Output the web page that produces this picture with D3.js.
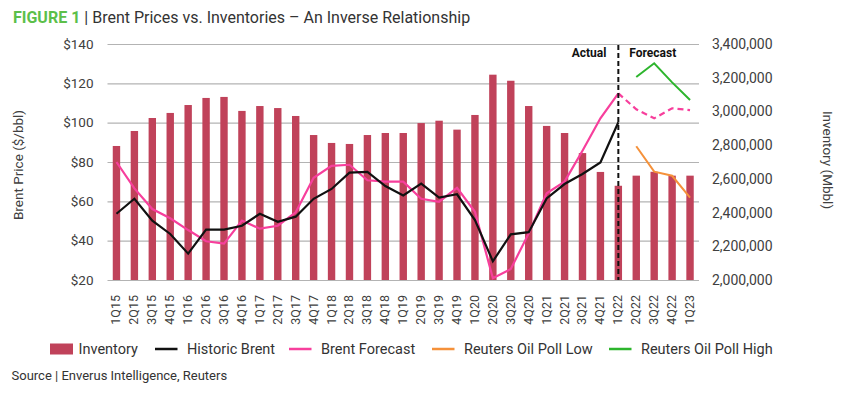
<!DOCTYPE html>
<html>
<head>
<meta charset="utf-8">
<script src="https://cdn.jsdelivr.net/npm/d3@7"></script>
<style>
body { margin: 0; background: #fff; }
text { font-family: Roboto, "Noto Sans", sans-serif; }
</style>
</head>
<body>
<script>
// quarters on the x axis
var quarters = ["1Q15","2Q15","3Q15","4Q15","1Q16","2Q16","3Q16","4Q16",
  "1Q17","2Q17","3Q17","4Q17","1Q18","2Q18","3Q18","4Q18",
  "1Q19","2Q19","3Q19","4Q19","1Q20","2Q20","3Q20","4Q20",
  "1Q21","2Q21","3Q21","4Q21","1Q22","2Q22","3Q22","4Q22","1Q23"];

// inventory (Mbbl), right axis
var inventory = [2795000,2884000,2961000,2991000,3038000,3080000,3086000,3003000,
  3032000,3020000,2973000,2860000,2813000,2807000,2860000,2872000,
  2872000,2931000,2945000,2892000,2979000,3218000,3182000,3032000,
  2914000,2872000,2753000,2641000,2559000,2619000,2642000,2619000,2619000];

// historic brent, 1Q15 - 1Q22
var historic = [53.7,61.3,50.2,43.4,33.4,45.6,45.6,47.6,
  53.7,49.6,52.2,61.3,66.3,74.6,75,67.8,
  63,69,61.9,63.6,50.5,29.5,43.2,44.3,
  61.5,68.8,73.9,79.8,100.2];

// brent forecast, 1Q15 - 1Q23 (dashed from 1Q22 on)
var forecast = [80,66.6,56.1,51.4,45.4,39.7,38.5,50.2,
  46.1,47.6,54.4,72,78,78.6,70.7,70,
  70,61.3,59.8,66.9,54.7,20.9,25.6,43.7,
  64.1,70,85.7,102.2,114.9,106.8,102.2,107.3,106.4];

// reuters poll, 2Q22 - 1Q23
var pollQuarters = ["2Q22","3Q22","4Q22","1Q23"];
var pollLow = [88,75.1,73,61.9];
var pollHigh = [123.2,130.2,120.5,111.5];

var priceTicks = [20,40,60,80,100,120,140];
var invTicks = [2000000,2200000,2400000,2600000,2800000,3000000,3200000,3400000];

var W = 847, H = 397;
var mLeft = 107.5, mRight = 699, mTop = 44, mBottom = 280;

var svg = d3.select("body").append("svg")
  .attr("width", W).attr("height", H);

var x = d3.scaleBand().domain(quarters).range([mLeft, mRight]).padding(0);
var cx = function(q) { return x(q) + x.bandwidth() / 2; };
var yP = d3.scaleLinear().domain([20, 140]).range([mBottom, mTop]);
var yI = d3.scaleLinear().domain([2000000, 3400000]).range([mBottom, mTop]);

// title
var title = svg.append("text").attr("x", 13).attr("y", 23).attr("font-size", 16);
title.append("tspan").attr("fill", "#5cbf4a").attr("font-weight", "bold").text("FIGURE 1");
title.append("tspan").attr("fill", "#333").text(" | Brent Prices vs. Inventories \u2013 An Inverse Relationship");

// gridlines + left axis
var gl = svg.append("g").attr("transform", "translate(" + mLeft + ",0)")
  .call(d3.axisLeft(yP).tickValues(priceTicks).tickSize(-(mRight - mLeft)).tickPadding(14)
    .tickFormat(function(d) { return "$" + d; }));
gl.select(".domain").remove();
gl.selectAll(".tick line").attr("stroke", "#b3b3b3").attr("stroke-width", 1.2);
gl.selectAll(".tick text").attr("font-size", 13.5).attr("fill", "#404040")
  .attr("font-family", "Roboto, sans-serif");

// right axis
var gr = svg.append("g").attr("transform", "translate(" + mRight + ",0)")
  .call(d3.axisRight(yI).tickValues(invTicks).tickSize(0).tickPadding(13)
    .tickFormat(d3.format(",")));
gr.select(".domain").remove();
gr.selectAll(".tick text").attr("font-size", 14).attr("fill", "#404040")
  .attr("font-family", "Roboto, sans-serif");

// axis titles
svg.append("text").attr("transform", "translate(23,165) rotate(-90)")
  .attr("text-anchor", "middle").attr("font-size", 13.5).attr("fill", "#404040")
  .text("Brent Price ($/bbl)");
svg.append("text").attr("transform", "translate(823,160) rotate(90)")
  .attr("text-anchor", "middle").attr("font-size", 13.5).attr("fill", "#404040")
  .text("Inventory (Mbbl)");

// bars
var bw = 7.4;
svg.append("g").selectAll("rect").data(inventory).enter().append("rect")
  .attr("x", function(d, i) { return cx(quarters[i]) - bw / 2; })
  .attr("y", function(d) { return yI(d); })
  .attr("width", bw)
  .attr("height", function(d) { return mBottom - yI(d); })
  .attr("fill", "#c0425a");

// x labels
var gx = svg.append("g").attr("transform", "translate(0," + mBottom + ")")
  .call(d3.axisBottom(x).tickSize(0).tickPadding(0));
gx.select(".domain").remove();
gx.selectAll(".tick text")
  .attr("transform", "translate(4,15) rotate(-90)")
  .attr("text-anchor", "end").attr("dy", 0).attr("x", 0).attr("y", 0)
  .attr("font-size", 12.5).attr("fill", "#404040")
  .attr("font-family", "Roboto, sans-serif");

// lines
var line = d3.line().x(function(d) { return cx(d[0]); }).y(function(d) { return yP(d[1]); });

var fcSolid = forecast.slice(0, 29).map(function(v, i) { return [quarters[i], v]; });
var fcDash = forecast.slice(28).map(function(v, i) { return [quarters[i + 28], v]; });
svg.append("path").datum(fcSolid).attr("d", line)
  .attr("fill", "none").attr("stroke", "#f73f9c").attr("stroke-width", 2.2);
svg.append("path").datum(fcDash).attr("d", line)
  .attr("fill", "none").attr("stroke", "#f73f9c").attr("stroke-width", 2.2)
  .attr("stroke-dasharray", "6,4");

svg.append("path").datum(historic.map(function(v, i) { return [quarters[i], v]; }))
  .attr("d", line).attr("fill", "none").attr("stroke", "#111").attr("stroke-width", 2.2);

svg.append("path").datum(pollLow.map(function(v, i) { return [pollQuarters[i], v]; }))
  .attr("d", line).attr("fill", "none").attr("stroke", "#f5913a").attr("stroke-width", 2);
svg.append("path").datum(pollHigh.map(function(v, i) { return [pollQuarters[i], v]; }))
  .attr("d", line).attr("fill", "none").attr("stroke", "#2db52d").attr("stroke-width", 2);

// actual / forecast divider
var dx = cx("1Q22");
svg.append("line").attr("x1", dx).attr("x2", dx).attr("y1", mTop + 1).attr("y2", mBottom)
  .attr("stroke", "#111").attr("stroke-width", 2).attr("stroke-dasharray", "5,3");
svg.append("text").attr("x", dx - 12).attr("y", 57).attr("text-anchor", "end")
  .attr("font-size", 12).attr("font-weight", "bold").attr("fill", "#111").text("Actual");
svg.append("text").attr("x", dx + 11).attr("y", 57)
  .attr("font-size", 12).attr("font-weight", "bold").attr("fill", "#111").text("Forecast");

// legend
var legend = [
  {name: "Inventory", color: "#c0425a", type: "rect", x: 50},
  {name: "Historic Brent", color: "#111", type: "line", x: 155},
  {name: "Brent Forecast", color: "#f73f9c", type: "line", x: 289},
  {name: "Reuters Oil Poll Low", color: "#f5913a", type: "line", x: 432},
  {name: "Reuters Oil Poll High", color: "#2db52d", type: "line", x: 609}
];
var lg = svg.append("g").selectAll("g").data(legend).enter().append("g")
  .attr("transform", function(d) { return "translate(" + d.x + ",349)"; });
lg.filter(function(d) { return d.type === "rect"; }).append("rect")
  .attr("x", 0).attr("y", -5.5).attr("width", 23).attr("height", 11)
  .attr("fill", function(d) { return d.color; });
lg.filter(function(d) { return d.type === "line"; }).append("line")
  .attr("x1", 0).attr("x2", 22.5).attr("y1", 0).attr("y2", 0)
  .attr("stroke", function(d) { return d.color; }).attr("stroke-width", 2.5);
lg.append("text").attr("x", function(d) { return d.type === "rect" ? 28.5 : 32; }).attr("y", 5)
  .attr("font-size", 14.5).attr("fill", "#333")
  .text(function(d) { return d.name; });

// source
svg.append("text").attr("x", 11.5).attr("y", 380).attr("font-size", 13).attr("fill", "#333")
  .text("Source | Enverus Intelligence, Reuters");
</script>
</body>
</html>
